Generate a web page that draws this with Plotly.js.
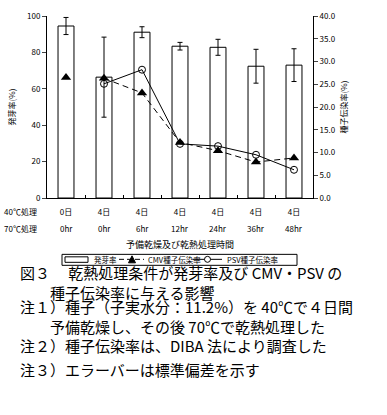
<!DOCTYPE html>
<html><head><meta charset="utf-8">
<script src="https://cdn.plot.ly/plotly-3.0.1.min.js"></script>
<style>html,body{margin:0;padding:0;background:#fff}#c{width:387px;height:415px}</style>
</head><body><div id="c"></div>
<script>
const days = ['0日','4日','4日','4日','4日','4日','4日'];
const hours = ['0hr','0hr','6hr','12hr','24hr','36hr','48hr'];
const germ = [94.5, 66.4, 91.1, 83.4, 82.8, 72.4, 73.0];
const germErr = [4.7, 22.0, 3.0, 2.1, 4.4, 9.3, 9.0];
const cmv = [26.5, 26.3, 23.1, 12.2, 10.4, 7.9, 8.8];
const psv = [null, 25.1, 28.2, 11.9, 11.4, 9.5, 6.2];
const seriesNames = ['発芽率', 'CMV種子伝染率', 'PSV種子伝染率'];
const captions = [
  '図３　 乾熱処理条件が発芽率及び CMV・PSV の<br>　　種子伝染率に与える影響',
  '注１）種子（子実水分：11.2%）を 40℃で４日間<br>　　予備乾燥し、その後 70℃で乾熱処理した',
  '注２）種子伝染率は、DIBA 法により調査した',
  '注３）エラーバーは標準偏差を示す'
];
const captionY = [283, 317, 346, 370];

const W=387,H=415,L=47,R=74,T=16,B=216.5;
const pw=W-L-R, ph=H-T-B;
const px=x=>(x-L)/pw, py=y=>(H-B-y)/ph;
const idx = days.map((_,i)=>i);
const FF = 'Noto Sans CJK JP';
const small = {family:FF, size:8, color:'#000'};

const traces = [
 {type:'bar', x:idx, y:germ, name:seriesNames[0], width:0.42,
  marker:{color:'#fff', line:{color:'#000', width:1}},
  error_y:{type:'data', array:germErr, visible:true, color:'#000', thickness:1, width:2.5}},
 {type:'scatter', mode:'markers', x:idx.slice(0,1), y:cmv.slice(0,1), yaxis:'y2', name:seriesNames[1],
  marker:{symbol:'triangle-up', size:9, color:'#000'}},
 {type:'scatter', mode:'lines+markers', x:idx.slice(1), y:cmv.slice(1), yaxis:'y2', name:seriesNames[1],
  line:{color:'#000', width:1, dash:'6px,4px'}, marker:{symbol:'triangle-up', size:9, color:'#000'}},
 {type:'scatter', mode:'lines+markers', x:idx, y:psv, yaxis:'y2', name:seriesNames[2],
  line:{color:'#000', width:1}, marker:{symbol:'circle-open', size:7, color:'#000', line:{width:1}}}
];

const ann = [];
ann.push({xref:'paper', yref:'paper', x:px(2), y:py(212), xanchor:'left', yanchor:'middle', text:'40℃処理', showarrow:false, font:small});
ann.push({xref:'paper', yref:'paper', x:px(2), y:py(229), xanchor:'left', yanchor:'middle', text:'70℃処理', showarrow:false, font:small});
hours.forEach((h,i)=>ann.push({xref:'x', yref:'paper', x:i, y:py(229), xanchor:'center', yanchor:'middle', text:h, showarrow:false, font:small}));
ann.push({xref:'paper', yref:'paper', x:px(180), y:py(245), xanchor:'center', yanchor:'middle', text:'予備乾燥及び乾熱処理時間', showarrow:false, font:{family:FF, size:9, color:'#000'}});
captions.forEach((t,i)=>ann.push({xref:'paper', yref:'paper', x:px(18), y:py(captionY[i]), xanchor:'left', yanchor:'middle', align:'left', text:t, showarrow:false, font:{family:FF, size:15, color:'#000'}}));

// compact legend strip
const LY = 260;
const legTextX = [92, 146, 225];
seriesNames.forEach((n,i)=>ann.push({xref:'paper', yref:'paper', x:px(legTextX[i]), y:py(LY), xanchor:'left', yanchor:'middle', text:n, showarrow:false, font:{family:FF, size:7.5, color:'#000'}}));
const P = (x,y)=>px(x)+','+py(y);
const shapes = [
 {type:'rect', xref:'paper', yref:'paper', x0:px(62), x1:px(297), y0:py(255), y1:py(266), line:{color:'#000', width:1}, fillcolor:'#fff', layer:'below'},
 {type:'rect', xref:'paper', yref:'paper', x0:px(65), x1:px(88), y0:py(257.5), y1:py(263), line:{color:'#000', width:1}, fillcolor:'#fff'},
 {type:'line', xref:'paper', yref:'paper', x0:px(119), x1:px(144), y0:py(LY), y1:py(LY), line:{color:'#000', width:1, dash:'5px,3px'}},
 {type:'path', xref:'paper', yref:'paper', path:'M'+P(128.5,263.5)+'L'+P(135.5,263.5)+'L'+P(132,256.5)+'Z', fillcolor:'#000', line:{color:'#000', width:1}},
 {type:'line', xref:'paper', yref:'paper', x0:px(193), x1:px(222), y0:py(LY), y1:py(LY), line:{color:'#000', width:1}},
 {type:'circle', xref:'paper', yref:'paper', x0:px(204.5), x1:px(210.5), y0:py(257), y1:py(263), line:{color:'#000', width:1}, fillcolor:'#fff'}
];

const layout = {
 width:W, height:H, margin:{l:L, r:R, t:T, b:B, pad:0},
 paper_bgcolor:'#fff', plot_bgcolor:'#fff', font:small, showlegend:false,
 xaxis:{range:[-0.5,6.5], tickvals:idx, ticktext:days, ticks:'', showline:true, linecolor:'#000', linewidth:1,
   showgrid:false, zeroline:false, tickfont:small, ticklabelstandoff:6,
   minor:{tickvals:[0.5,1.5,2.5,3.5,4.5,5.5], ticks:'inside', ticklen:3, tickcolor:'#000'}},
 yaxis:{range:[0,100], dtick:20, ticks:'outside', ticklen:4, showline:true, linecolor:'#000', linewidth:1,
   showgrid:false, zeroline:false, tickfont:small,
   title:{text:'発芽率(%)', font:small, standoff:10}},
 yaxis2:{range:[0,40], dtick:5, tickformat:'.1f', overlaying:'y', side:'right', ticks:'outside', ticklen:4,
   showline:true, linecolor:'#000', linewidth:1, showgrid:false, zeroline:false, tickfont:small,
   title:{text:'種子伝染率(%)', font:small, standoff:6}},
 annotations:ann, shapes:shapes
};
Plotly.newPlot('c', traces, layout, {staticPlot:true, displayModeBar:false});
</script></body></html>
